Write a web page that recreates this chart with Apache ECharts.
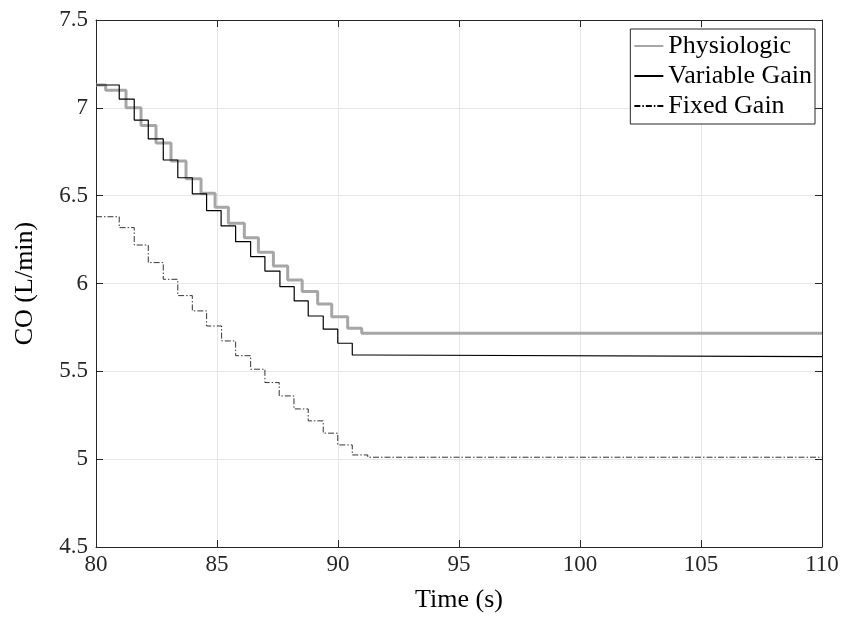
<!DOCTYPE html>
<html>
<head>
<meta charset="utf-8">
<script src="https://cdn.jsdelivr.net/npm/echarts@6/dist/echarts.min.js"></script>
<style>
  html, body { margin: 0; padding: 0; background: #fff; }
  #chart { width: 848px; height: 635px; }
</style>
</head>
<body>
<div id="chart"></div>
<script>
// Cardiac output step responses: each level starts at the matching time and holds until the next one.
const endTime = 110;

const physioTimes  = [80, 80.4, 81.24, 81.86, 82.48, 83.10, 83.72, 84.34, 84.92, 85.47, 86.13, 86.71, 87.33, 87.92, 88.52, 89.16, 89.74, 90.40, 90.98];
const physioLevels = [7.13, 7.10, 7.00, 6.90, 6.80, 6.697, 6.597, 6.514, 6.434, 6.343, 6.261, 6.178, 6.10, 6.02, 5.954, 5.884, 5.811, 5.745, 5.717];

const varTimes  = [80, 80.96, 81.58, 82.16, 82.78, 83.38, 83.98, 84.57, 85.17, 85.77, 86.39, 86.98, 87.60, 88.19, 88.77, 89.39, 89.99, 90.59, 91.19];
const varLevels = [7.13, 7.05, 6.93, 6.823, 6.703, 6.602, 6.51, 6.415, 6.328, 6.238, 6.153, 6.071, 5.982, 5.901, 5.815, 5.740, 5.660, 5.593, 5.584];

const fixedTimes  = [80, 80.96, 81.58, 82.16, 82.78, 83.38, 83.98, 84.57, 85.19, 85.77, 86.39, 86.98, 87.57, 88.18, 88.77, 89.39, 89.99, 90.59, 91.23];
const fixedLevels = [6.38, 6.318, 6.219, 6.119, 6.024, 5.931, 5.844, 5.758, 5.673, 5.589, 5.512, 5.436, 5.36, 5.286, 5.218, 5.148, 5.081, 5.024, 5.011];

const seriesNames = ['Physiologic', 'Variable Gain', 'Fixed Gain'];
const xTicks = { min: 80, max: 110, interval: 5 };
const yTicks = { min: 4.5, max: 7.5, interval: 0.5 };

function stepData(times, levels) {
  const pts = times.map((t, i) => [t, levels[i]]);
  pts.push([endTime, levels[levels.length - 1]]);
  return pts;
}

const font = 'Liberation Serif';
const chart = echarts.init(document.getElementById('chart'), null, { renderer: 'canvas' });

const tickStyle = { show: true, inside: true, length: 7, lineStyle: { color: '#262626', width: 1 } };
const lineStyleAxis = { show: true, lineStyle: { color: '#262626', width: 1 } };

chart.setOption({
  backgroundColor: '#ffffff',
  animation: false,
  grid: { left: 96, right: 26, top: 20, bottom: 88, containLabel: false },
  legend: {
    data: seriesNames,
    orient: 'vertical',
    right: 33,
    top: 29,
    backgroundColor: '#ffffff',
    borderColor: '#262626',
    borderWidth: 1,
    borderRadius: 0,
    padding: [4, 3, 5, 3],
    itemWidth: 29,
    itemHeight: 12,
    itemGap: 4,
    itemStyle: { opacity: 0 },
    textStyle: { fontFamily: font, fontSize: 26, color: '#000', lineHeight: 26 }
  },
  xAxis: [
    {
      type: 'value', min: xTicks.min, max: xTicks.max, interval: xTicks.interval,
      name: 'Time (s)', nameLocation: 'middle', nameGap: 40,
      nameTextStyle: { fontFamily: font, fontSize: 26, color: '#000' },
      axisLine: lineStyleAxis, axisTick: tickStyle,
      axisLabel: { fontFamily: font, fontSize: 23, color: '#262626', margin: 6 },
      splitLine: { show: true, lineStyle: { color: '#e6e6e6', width: 1 } }
    },
    {
      type: 'value', position: 'top', min: xTicks.min, max: xTicks.max, interval: xTicks.interval,
      axisLine: lineStyleAxis, axisTick: tickStyle,
      axisLabel: { show: false }, splitLine: { show: false }
    }
  ],
  yAxis: [
    {
      type: 'value', min: yTicks.min, max: yTicks.max, interval: yTicks.interval,
      name: 'CO (L/min)', nameLocation: 'middle', nameGap: 58, nameRotate: 90,
      nameTextStyle: { fontFamily: font, fontSize: 26, color: '#000' },
      axisLine: lineStyleAxis, axisTick: tickStyle,
      axisLabel: { fontFamily: font, fontSize: 23, color: '#262626', margin: 8 },
      splitLine: { show: true, lineStyle: { color: '#e6e6e6', width: 1 } }
    },
    {
      type: 'value', position: 'right', min: yTicks.min, max: yTicks.max, interval: yTicks.interval,
      axisLine: lineStyleAxis, axisTick: tickStyle,
      axisLabel: { show: false }, splitLine: { show: false }
    }
  ],
  series: [
    {
      name: seriesNames[0], type: 'line', step: 'end', showSymbol: false, symbol: 'none',
      data: stepData(physioTimes, physioLevels),
      itemStyle: { color: '#a6a6a6' },
      lineStyle: { color: '#a6a6a6', width: 3 }
    },
    {
      name: seriesNames[1], type: 'line', step: 'end', showSymbol: false, symbol: 'none',
      data: stepData(varTimes, varLevels),
      itemStyle: { color: '#000' },
      lineStyle: { color: '#000', width: 1.2 }
    },
    {
      name: seriesNames[2], type: 'line', step: 'end', showSymbol: false, symbol: 'none',
      data: stepData(fixedTimes, fixedLevels),
      itemStyle: { color: '#000' },
      lineStyle: { color: '#000', width: 0.8, type: [6, 2, 1.5, 2] }
    }
  ]
});
</script>
</body>
</html>
